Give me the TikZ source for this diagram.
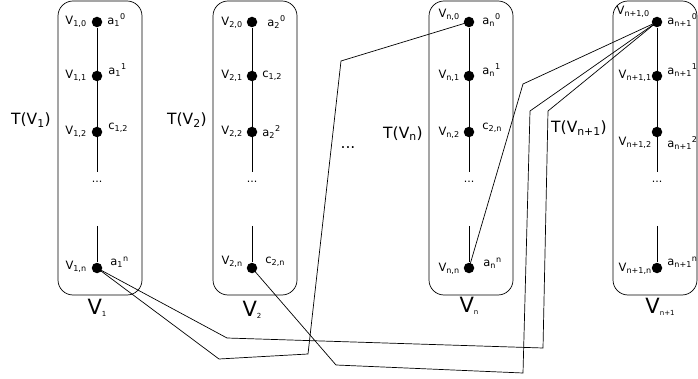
\documentclass[tikz,border=0pt]{standalone}
\usepackage{fontspec}
\setmainfont{DejaVu Sans}
\begin{document}
\begin{tikzpicture}[x=1pt,y=-1pt,line width=0.7pt,
	dot/.style={circle,fill,inner sep=0pt,minimum size=10.5pt},
	vlab/.style={anchor=east,inner sep=0pt,font=\fontsize{11.5}{13}\selectfont},
	alab/.style={anchor=west,inner sep=0pt,font=\fontsize{11.5}{13}\selectfont},
	tlab/.style={inner sep=0pt,font=\fontsize{15.5}{18}\selectfont},
	setlab/.style={inner sep=0pt,font=\fontsize{21}{24}\selectfont},
	vbox/.style={draw,rounded corners=15pt}]
	\useasboundingbox (0,0) rectangle (698,379);
	% the four boxes
	\draw[vbox] (58,1) rectangle (142,295);
	\draw[vbox] (213,1) rectangle (297,295);
	\draw[vbox] (429,1) rectangle (513,295);
	\draw[vbox] (613,1) rectangle (697,295);
	% the paths inside the boxes
	\foreach \c/\x in {1/97,2/252,n/469,m/657} {
		\node[dot] (v\c-0) at (\x,22) {};
		\node[dot] (v\c-1) at (\x,76) {};
		\node[dot] (v\c-2) at (\x,132) {};
		\node[dot] (v\c-n) at (\x,268) {};
		\draw (v\c-0) -- (\x,172);
		\draw (\x,226) -- (v\c-n);
		\node[inner sep=0pt,font=\fontsize{11}{13}\selectfont] (dots\c) at (\x,182) {...};
	}
	% box 1
	\node[vlab] (l1-0) at (87,22) {V\textsubscript{1,0}};
	\node[vlab] (l1-1) at (87,76) {V\textsubscript{1,1}};
	\node[vlab] (l1-2) at (87,132) {V\textsubscript{1,2}};
	\node[vlab] (l1-n) at (87,267) {V\textsubscript{1,n}};
	\node[alab] (a1-0) at (107,20) {a\textsubscript{1}\textsuperscript{0}};
	\node[alab] (a1-1) at (108,70) {a\textsubscript{1}\textsuperscript{1}};
	\node[alab] (a1-2) at (108,128) {c\textsubscript{1,2}};
	\node[alab] (a1-n) at (110,262) {a\textsubscript{1}\textsuperscript{n}};
	\node[tlab] (t1) at (31,120) {T(V\textsubscript{1})};
	\node[setlab] (s1) at (97,308) {V\raisebox{-2pt}{\fontsize{7}{8}\selectfont 1}};
	% box 2
	\node[vlab] (l2-0) at (243,23) {V\textsubscript{2,0}};
	\node[vlab] (l2-1) at (243,76) {V\textsubscript{2,1}};
	\node[vlab] (l2-2) at (243,132) {V\textsubscript{2,2}};
	\node[vlab] (l2-n) at (243,262) {V\textsubscript{2,n}};
	\node[alab] (a2-0) at (267,22) {a\textsubscript{2}\textsuperscript{0}};
	\node[alab] (a2-1) at (262,76) {c\textsubscript{1,2}};
	\node[alab] (a2-2) at (262,132) {a\textsubscript{2}\textsuperscript{2}};
	\node[alab] (a2-n) at (265,262) {c\textsubscript{2,n}};
	\node[tlab] (t2) at (187,120) {T(V\textsubscript{2})};
	\node[setlab] (s2) at (252,310) {V\raisebox{-2pt}{\fontsize{7}{8}\selectfont 2}};
	% middle dots
	\node[tlab] (mid) at (348,148) {...};
	% box n
	\node[vlab] (ln-0) at (460,15) {V\textsubscript{n,0}};
	\node[vlab] (ln-1) at (460,76) {V\textsubscript{n,1}};
	\node[vlab] (ln-2) at (460,133) {V\textsubscript{n,2}};
	\node[vlab] (ln-n) at (460,269) {V\textsubscript{n,n}};
	\node[alab] (an-0) at (482,20) {a\textsubscript{n}\textsuperscript{0}};
	\node[alab] (an-1) at (482,70) {a\textsubscript{n}\textsuperscript{1}};
	\node[alab] (an-2) at (482,128) {c\textsubscript{2,n}};
	\node[alab] (an-n) at (483,263) {a\textsubscript{n}\textsuperscript{n}};
	\node[tlab] (tn) at (403,134) {T(V\textsubscript{n})};
	\node[setlab] (sn) at (469,306) {V\raisebox{-2pt}{\fontsize{7}{8}\selectfont n}};
	% box n+1
	\node[vlab] (lm-0) at (650,12) {V\textsubscript{n+1,0}};
	\node[vlab] (lm-1) at (652,76) {V\textsubscript{n+1,1}};
	\node[vlab] (lm-2) at (652,143) {V\textsubscript{n+1,2}};
	\node[vlab] (lm-n) at (652,269) {V\textsubscript{n+1,n}};
	\node[alab] (am-0) at (667,20) {a\textsubscript{n+1}\textsuperscript{0}};
	\node[alab] (am-1) at (667,70) {a\textsubscript{n+1}\textsuperscript{1}};
	\node[alab] (am-2) at (667,143) {a\textsubscript{n+1}\textsuperscript{2}};
	\node[alab] (am-n) at (667,262) {a\textsubscript{n+1}\textsuperscript{n}};
	\node[tlab] (tm) at (579,128) {T(V\textsubscript{n+1})};
	\node[setlab] (sm) at (660,307) {V\raisebox{-2pt}{\fontsize{7}{8}\selectfont n+1}};
	% edges between the boxes
	\draw (v1-n.center) -- (227,338) -- (543,348) -- (548,111) -- (vm-0.center);
	\draw (v1-n.center) -- (219,359) -- (308,354) -- (341,61) -- (vn-0.center);
	\draw (v2-n.center) -- (336,365) -- (523,373) -- (530,111) -- (vm-0.center);
	\draw (vn-n.center) -- (523,84) -- (vm-0.center);
\end{tikzpicture}
\end{document}
